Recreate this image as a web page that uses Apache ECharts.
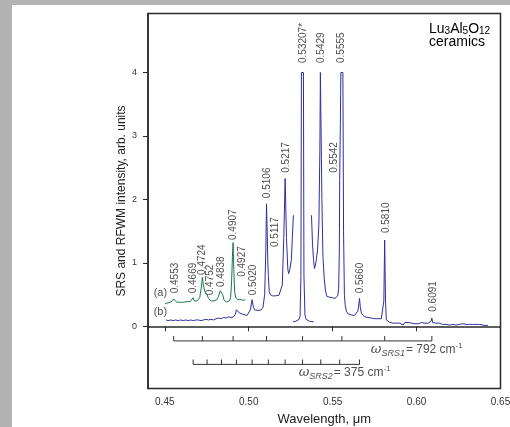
<!DOCTYPE html>
<html>
<head>
<meta charset="utf-8">
<script src="https://cdn.jsdelivr.net/npm/echarts@6/dist/echarts.min.js"></script>
<style>
html,body{margin:0;padding:0;background:#fff;overflow:hidden;}
#main{position:absolute;left:0;top:0;width:510px;height:427px;}
</style>
</head>
<body>
<div id="main"></div>
<script>
// (a) RFWM spectrum, green
const specA = [
  [0.4502,0.36],[0.4512,0.38],[0.4522,0.37],[0.4532,0.38],[0.4542,0.39],[0.4553,0.43],[0.4562,0.41],
  [0.4572,0.38],[0.4582,0.37],[0.4592,0.38],[0.4602,0.37],[0.4612,0.38],[0.4622,0.37],[0.4632,0.39],
  [0.4642,0.38],[0.4652,0.39],[0.4660,0.41],[0.4669,0.45],[0.4676,0.40],[0.4684,0.41],[0.4692,0.40],
  [0.4700,0.42],[0.4708,0.45],[0.4716,0.58],[0.4724,0.77],[0.4730,0.65],[0.4738,0.55],[0.4746,0.52],
  [0.4752,0.50],[0.4760,0.44],[0.4768,0.41],[0.4776,0.40],[0.4784,0.39],[0.4792,0.40],[0.4800,0.41],
  [0.4810,0.42],[0.4820,0.47],[0.4830,0.56],[0.4838,0.59],[0.4845,0.50],[0.4852,0.42],[0.4860,0.39],
  [0.4868,0.38],[0.4876,0.39],[0.4884,0.40],[0.4892,0.45],[0.4898,0.70],[0.4903,1.10],[0.4907,1.32],
  [0.4911,0.90],[0.4916,0.55],[0.4922,0.46],[0.4927,0.44],[0.4934,0.42],[0.4942,0.41],[0.4952,0.42],
  [0.4962,0.40],[0.4972,0.41],[0.4980,0.42]
];
// (b) SRS spectrum, blue (null entries = gaps)
const specB = [
  [0.4508,0.10],[0.4520,0.09],[0.4535,0.10],[0.4550,0.09],[0.4565,0.10],[0.4580,0.09],[0.4595,0.10],
  [0.4610,0.09],[0.4625,0.10],[0.4640,0.09],[0.4655,0.10],[0.4670,0.09],[0.4685,0.10],[0.4700,0.10],
  [0.4715,0.09],[0.4730,0.10],[0.4745,0.11],[0.4760,0.10],[0.4775,0.11],[0.4790,0.10],[0.4805,0.12],
  [0.4820,0.13],[0.4835,0.12],[0.4850,0.14],[0.4865,0.13],[0.4880,0.15],[0.4895,0.14],[0.4910,0.15],
  [0.4920,0.19],[0.4927,0.26],[0.4935,0.24],[0.4945,0.21],[0.4955,0.22],[0.4965,0.19],[0.4975,0.20],
  [0.4990,0.17],[0.5000,0.19],[0.5010,0.26],[0.5020,0.42],[0.5028,0.30],[0.5035,0.26],[0.5045,0.27],
  [0.5055,0.25],[0.5065,0.27],[0.5075,0.26],[0.5085,0.30],[0.5095,0.50],[0.5102,1.20],[0.5106,1.93],
  [0.5110,1.50],[0.5114,1.00],[0.5117,0.80],[0.5122,0.55],[0.5128,0.50],[0.5135,0.47],[0.5142,0.48],
  [0.5150,0.46],[0.5158,0.48],[0.5169,0.47],[0.5180,0.49],[0.5188,0.50],[0.5200,0.65],[0.5209,1.40],
  [0.5217,2.33],[0.5225,1.40],[0.5233,0.90],[0.5238,0.83],[0.5245,0.90],[0.5254,1.05],[0.5260,1.40],
  [0.5266,1.75],
  [0.5266,null],
  [0.5264,0.07],[0.5272,0.09],[0.5280,0.08],[0.5290,0.10],[0.5300,0.11],[0.5306,0.16],[0.5311,0.80],
  [0.5314,4.00],[0.5326,4.00],[0.5329,0.80],[0.5335,0.18],[0.5342,0.11],[0.5352,0.10],[0.5362,0.08],
  [0.5372,0.09],[0.5387,0.07],
  [0.5387,null],
  [0.5374,1.75],[0.5380,1.30],[0.5386,1.05],[0.5392,0.91],[0.5400,1.00],[0.5410,1.20],[0.5418,1.60],
  [0.5424,2.80],[0.5427,4.00],[0.5431,4.00],[0.5436,2.00],[0.5442,1.10],[0.5450,0.75],[0.5458,0.55],
  [0.5466,0.47],[0.5474,0.44],[0.5482,0.46],[0.5490,0.43],[0.5498,0.45],[0.5506,0.42],[0.5514,0.44],
  [0.5522,0.43],[0.5530,0.48],[0.5536,0.60],[0.5540,1.20],[0.5542,2.30],[0.5546,3.20],[0.5549,4.00],
  [0.5561,4.00],[0.5565,1.50],[0.5570,0.50],[0.5575,0.33],[0.5582,0.24],[0.5590,0.20],[0.5600,0.19],
  [0.5610,0.18],[0.5620,0.19],[0.5630,0.17],[0.5640,0.20],[0.5650,0.24],[0.5655,0.32],[0.5660,0.44],
  [0.5665,0.30],[0.5672,0.20],[0.5680,0.18],[0.5690,0.15],[0.5700,0.16],[0.5710,0.14],[0.5720,0.15],
  [0.5730,0.13],[0.5740,0.14],[0.5750,0.12],[0.5760,0.13],[0.5770,0.12],[0.5780,0.11],[0.5790,0.12],
  [0.5800,0.14],[0.5805,0.40],[0.5810,1.36],[0.5815,0.40],[0.5820,0.10],[0.5830,0.08],[0.5840,0.06],
  [0.5850,0.07],[0.5860,0.05],[0.5870,0.06],[0.5880,0.05],[0.5890,0.06],[0.5900,0.05],[0.5910,0.07],
  [0.5920,0.02],[0.5930,0.06],[0.5940,0.05],[0.5950,0.06],[0.5960,0.04],[0.5970,0.05],[0.5980,0.06],
  [0.5990,0.04],[0.6000,0.05],[0.6010,0.04],[0.6020,0.05],[0.6030,0.06],[0.6040,0.04],[0.6050,0.05],
  [0.6060,0.04],[0.6070,0.05],[0.6080,0.05],[0.6086,0.08],[0.6091,0.13],[0.6096,0.06],[0.6105,0.04],
  [0.6115,0.05],[0.6125,0.03],[0.6135,0.05],[0.6145,0.04],[0.6155,0.03],[0.6165,0.05],[0.6175,0.03],
  [0.6185,0.04],[0.6195,0.02],[0.6205,0.04],[0.6215,0.03],[0.6225,0.04],[0.6235,0.02],[0.6245,0.04],
  [0.6255,0.03],[0.6265,0.02],[0.6275,0.04],[0.6285,0.02],[0.6295,0.03],[0.6305,0.02],[0.6315,0.03],
  [0.6325,0.02],[0.6335,0.03],[0.6345,0.01],[0.6355,0.03],[0.6365,0.02],[0.6375,0.03],[0.6385,0.01],
  [0.6395,0.02],[0.6405,0.03],[0.6415,0.01],[0.6426,0.02]
];

// peak labels: text, label x, level where text starts
const peakNames = ['0.4553','0.4669','0.4724','0.4752','0.4838','0.4907','0.4927','0.5020','0.5106',
  '0.5117','0.5217','0.53207*','0.5429','0.5555','0.5542','0.5660','0.5810','0.6091'];
const peakX = [0.4561,0.4667,0.4724,0.4770,0.4836,0.4906,0.4960,0.5025,0.5110,
  0.5161,0.5221,0.5323,0.5433,0.5551,0.5509,0.5666,0.5818,0.6102];
const peakLevel = [0.52,0.52,0.81,0.49,0.62,1.36,0.78,0.49,2.02,
  1.25,2.42,4.15,4.15,4.15,2.42,0.52,1.47,0.23];

// Stokes/anti-Stokes combs
const srs1Lines = [0.4553,0.4724,0.4907,0.5106,0.53207,0.5555,0.5810,0.6091];
const srs2Lines = [0.4669,0.4752,0.4838,0.4927,0.5020,0.5117,0.5217,0.53207,0.5429,0.5542,0.5660];
const srs1Level = -0.23;
const srs2Level = -0.60;

const xTicks = [0.45,0.50,0.55,0.60,0.65];
const yTicks = [0,1,2,3,4];

const font = 'Liberation Sans, Arial, sans-serif';
const ink = '#2a2a2a';

let chart = echarts.init(document.getElementById('main'));

let combSeries = (lines, level) => ({
  type: 'line',
  data: lines.map(x => [x, level]),
  symbol: 'rect',
  symbolSize: [1, 5],
  symbolOffset: [0, -2.5],
  showSymbol: true,
  lineStyle: { color: '#333', width: 1 },
  itemStyle: { color: '#333' },
  silent: true
});

let note = (x, y, text, align) => ({ value: [x, y], label: { formatter: text, align: align } });

let option = {
  animation: false,
  backgroundColor: '#fff',
  grid: {
    left: 148, right: 9.5, top: 13.5, bottom: 38.5,
    outerBoundsMode: 'none',
    show: true, borderColor: ink, borderWidth: 1.5
  },
  xAxis: {
    type: 'value', min: 0.44, max: 0.65,
    name: 'Wavelength, \u03bcm', nameLocation: 'middle', nameGap: 24, nameMoveOverlap: false,
    nameTextStyle: { fontFamily: font, fontSize: 13, color: '#222' },
    axisLine: { lineStyle: { color: ink, width: 1.5 } },
    axisTick: { customValues: xTicks, length: 5, lineStyle: { color: ink } },
    axisLabel: { customValues: xTicks, formatter: v => v.toFixed(2), margin: 9,
      fontFamily: font, fontSize: 10, color: '#333' },
    splitLine: { show: false }
  },
  yAxis: {
    type: 'value', min: -0.98, max: 4.93,
    name: 'SRS and RFWM intensity, arb. units', nameLocation: 'middle', nameGap: 20, nameMoveOverlap: false,
    nameTextStyle: { fontFamily: font, fontSize: 12, color: '#222' },
    axisLine: { lineStyle: { color: ink, width: 1.5 } },
    axisTick: { customValues: yTicks, length: 5, lineStyle: { color: ink } },
    axisLabel: { customValues: yTicks, margin: 11, fontFamily: font, fontSize: 9, color: '#333' },
    splitLine: { show: false }
  },
  graphic: [
    { type: 'rect', left: 0, top: 0, shape: { width: 12, height: 427 }, style: { fill: '#b3b3b3' }, silent: true },
    { type: 'rect', left: 0, top: 0, shape: { width: 510, height: 5 }, style: { fill: '#b3b3b3' }, silent: true },
    {
      type: 'text', left: 429, top: 22,
      style: {
        text: '{a|Lu}{b|3}{a|Al}{b|5}{a|O}{b|12}\n{a|ceramics}',
        rich: {
          a: { fontFamily: font, fontSize: 14, color: '#222', lineHeight: 13 },
          b: { fontFamily: font, fontSize: 10, color: '#222', lineHeight: 13, verticalAlign: 'bottom', padding: [4, 0, 0, 0] }
        }
      }
    }
  ],
  series: [
    {
      type: 'line', name: 'b', data: specB, showSymbol: false, connectNulls: false,
      lineStyle: { color: '#2d3199', width: 1 }, silent: true
    },
    {
      type: 'line', name: 'a', data: specA, showSymbol: false,
      lineStyle: { color: '#1b7a44', width: 1 }, silent: true
    },
    combSeries(srs1Lines, srs1Level),
    combSeries(srs2Lines, srs2Level),
    {
      // rotated peak labels
      type: 'scatter', symbolSize: 0, silent: true,
      data: peakNames.map((n, i) => ({ name: n, value: [peakX[i], peakLevel[i]] })),
      label: {
        show: true, position: 'top', distance: 0, rotate: 90,
        align: 'left', verticalAlign: 'middle',
        formatter: p => p.name,
        fontFamily: font, fontSize: 10, color: '#222'
      }
    },
    {
      // curve and comb annotations
      type: 'scatter', symbolSize: 0, silent: true,
      data: [
        note(0.4514, 0.52, '(a)', 'right'),
        note(0.4514, 0.22, '(b)', 'right'),
        note(0.6275, -0.37, '{w|\u03c9}{s|SRS1}{t|= 792 cm}{p|-1}', 'right'),
        note(0.5845, -0.735, '{w|\u03c9}{s|SRS2}{t|= 375 cm}{p|-1}', 'right')
      ],
      label: {
        show: true, position: 'inside', verticalAlign: 'middle',
        fontFamily: font, fontSize: 11, color: '#222',
        rich: {
          w: { fontFamily: 'DejaVu Serif, serif', fontStyle: 'italic', fontSize: 13, color: '#222', lineHeight: 16 },
          s: { fontFamily: font, fontStyle: 'italic', fontSize: 9, color: '#222', lineHeight: 16, verticalAlign: 'bottom', padding: [5, 1, 0, 0] },
          t: { fontFamily: font, fontSize: 12, color: '#222', lineHeight: 16 },
          p: { fontFamily: font, fontSize: 8, color: '#222', lineHeight: 16, verticalAlign: 'top', padding: [0, 0, 5, 0] }
        }
      }
    }
  ]
};

chart.setOption(option);
</script>
</body>
</html>
